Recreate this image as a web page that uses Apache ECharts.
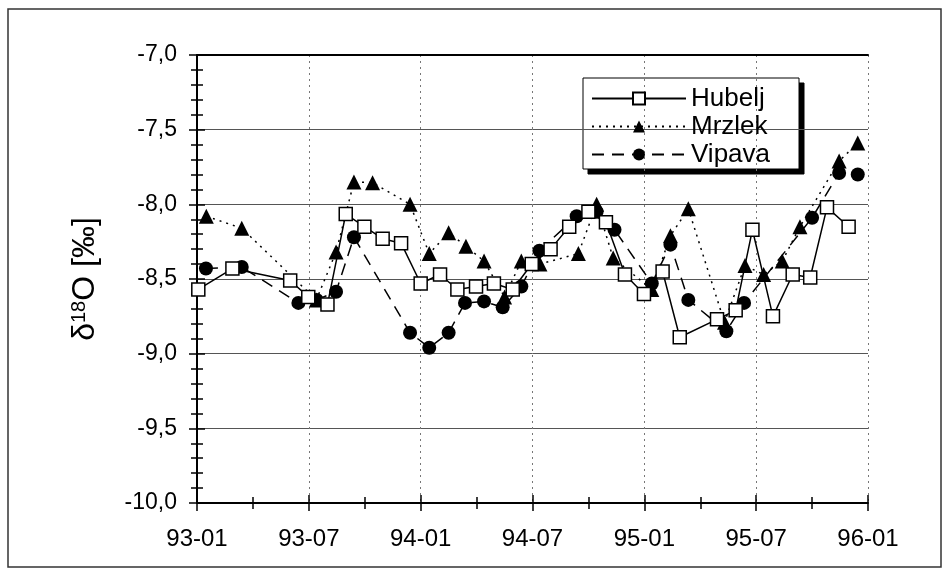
<!DOCTYPE html>
<html>
<head>
<meta charset="utf-8">
<script src="https://cdn.jsdelivr.net/npm/echarts@6/dist/echarts.min.js"></script>
<style>html,body{margin:0;padding:0;background:#fff}#c{width:950px;height:572px}</style>
</head>
<body>
<div id="c"></div>
<script>
// x values are months since 1993-01
const xTickLabels = ['93-01','93-07','94-01','94-07','95-01','95-07','96-01'];

const hubeljMonths = [0.07,1.9,5.0,5.97,7.0,7.98,8.98,9.96,10.95,12.0,13.04,13.97,14.97,15.93,16.94,17.96,18.97,19.97,21.0,21.94,22.96,23.98,24.98,25.9,27.9,28.9,29.8,30.9,31.96,32.9,33.8,34.96];
const hubeljValues = [-8.57,-8.43,-8.51,-8.62,-8.67,-8.065,-8.15,-8.23,-8.26,-8.53,-8.47,-8.57,-8.55,-8.53,-8.57,-8.40,-8.30,-8.15,-8.05,-8.12,-8.47,-8.60,-8.45,-8.89,-8.77,-8.71,-8.17,-8.75,-8.47,-8.49,-8.02,-8.15];

const mrzlekMonths = [0.5,2.4,6.4,7.46,8.42,9.42,11.43,12.46,13.5,14.43,15.4,16.5,17.4,18.4,20.46,21.44,22.33,24.4,25.4,26.36,28.3,29.4,30.4,31.4,32.35,34.45,35.45];
const mrzlekValues = [-8.08,-8.16,-8.64,-8.32,-7.85,-7.855,-8.0,-8.33,-8.19,-8.28,-8.38,-8.62,-8.38,-8.40,-8.33,-8.0,-8.36,-8.57,-8.21,-8.03,-8.79,-8.41,-8.47,-8.38,-8.15,-7.71,-7.59];

const vipavaMonths = [0.48,2.4,5.44,6.42,7.46,8.42,11.43,12.46,13.5,14.38,15.4,16.4,17.4,18.37,20.37,21.44,22.4,24.4,25.4,26.36,28.4,29.35,33.0,34.45,35.45];
const vipavaValues = [-8.43,-8.42,-8.66,-8.64,-8.585,-8.22,-8.86,-8.96,-8.86,-8.66,-8.65,-8.69,-8.55,-8.31,-8.08,-8.05,-8.17,-8.53,-8.27,-8.64,-8.85,-8.66,-8.09,-7.79,-7.80];

const zip = (a, b) => a.map((v, i) => [v, b[i]]);
const FONT = '"Liberation Sans", Arial, sans-serif';

const chart = echarts.init(document.getElementById('c'), null, {renderer: 'canvas'});
const yCommon = {type: 'value', min: -10, max: -7, interval: 0.5, position: 'left'};
const xCommon = {type: 'value', min: 0, max: 36, interval: 6};

chart.setOption({
  animation: false,
  backgroundColor: '#fff',
  grid: {left: 197, right: 82, top: 55, bottom: 69, containLabel: false},
  graphic: {
    elements: [
      {type: 'rect', silent: true,
        shape: {x: 8, y: 9, width: 933, height: 558},
        style: {fill: 'transparent', stroke: '#333', lineWidth: 1.5}},
      {type: 'group', silent: true, z: 100, children: [
        {type: 'rect', shape: {x: 588, y: 83, width: 216, height: 91}, style: {fill: '#000', stroke: '#000'}},
        {type: 'rect', shape: {x: 583, y: 78, width: 216, height: 91}, style: {fill: '#fff', stroke: '#000', lineWidth: 1}}
      ]}
    ]
  },
  legend: {
    left: 583, top: 78, orient: 'vertical', z: 200,
    padding: [7.5, 10, 10, 8],
    itemWidth: 94, itemHeight: 15, itemGap: 2,
    textStyle: {fontFamily: FONT, fontSize: 26, color: '#000'},
    data: ['Hubelj', 'Mrzlek', 'Vipava']
  },
  xAxis: [
    Object.assign({}, xCommon, {
      position: 'bottom',
      axisLine: {show: true, onZero: false, lineStyle: {color: '#000', width: 2}},
      axisTick: {show: true, inside: false, length: 8, lineStyle: {color: '#000', width: 1.5}},
      minorTick: {show: true, splitNumber: 2, length: 6, lineStyle: {color: '#000', width: 1.5}},
      axisLabel: {margin: 24, fontFamily: FONT, fontSize: 24, color: '#000',
        formatter: v => xTickLabels[Math.round(v / 6)]},
      splitLine: {show: true, lineStyle: {color: '#777', width: 1, type: [2, 4]}}
    }),
    Object.assign({}, xCommon, {
      position: 'bottom',
      axisLine: {show: false, onZero: false},
      axisTick: {show: true, inside: true, length: 8, lineStyle: {color: '#000', width: 1.5}},
      minorTick: {show: true, splitNumber: 2, length: 6, lineStyle: {color: '#000', width: 1.5}},
      axisLabel: {show: false}, splitLine: {show: false}
    }),
    Object.assign({}, xCommon, {
      position: 'top',
      axisLine: {show: true, onZero: false, lineStyle: {color: '#000', width: 2}},
      axisTick: {show: false}, axisLabel: {show: false}, splitLine: {show: false}
    })
  ],
  yAxis: [
    Object.assign({}, yCommon, {
      name: '{a|δ}{s|18}{a|O [‰]}',
      nameLocation: 'middle', nameGap: 96, nameRotate: 90,
      nameTextStyle: {rich: {
        a: {fontFamily: FONT, fontSize: 32, color: '#000'},
        s: {fontFamily: FONT, fontSize: 20, color: '#000', verticalAlign: 'top', padding: [0, 0, 12, 0]}
      }},
      axisLine: {show: true, onZero: false, lineStyle: {color: '#000', width: 2}},
      axisTick: {show: true, inside: false, length: 8, lineStyle: {color: '#000', width: 1.5}},
      minorTick: {show: true, splitNumber: 5, length: 6, lineStyle: {color: '#000', width: 1.5}},
      axisLabel: {margin: 20, fontFamily: FONT, fontSize: 23, color: '#000',
        formatter: v => v.toFixed(1).replace('.', ',')},
      splitLine: {show: true, lineStyle: {color: '#555', width: 1}}
    }),
    Object.assign({}, yCommon, {
      axisLine: {show: false, onZero: false},
      axisTick: {show: true, inside: true, length: 8, lineStyle: {color: '#000', width: 1.5}},
      minorTick: {show: true, splitNumber: 5, length: 6, lineStyle: {color: '#000', width: 1.5}},
      axisLabel: {show: false}, splitLine: {show: false}
    })
  ],
  series: [
    {
      name: 'Hubelj', type: 'line', xAxisIndex: 0, yAxisIndex: 0, z: 3,
      data: zip(hubeljMonths, hubeljValues),
      symbol: 'rect', symbolSize: 13,
      itemStyle: {color: '#fff', borderColor: '#000', borderWidth: 1.5},
      lineStyle: {color: '#000', width: 1.5, type: 'solid'}
    },
    {
      name: 'Mrzlek', type: 'line', xAxisIndex: 0, yAxisIndex: 0, z: 2,
      data: zip(mrzlekMonths, mrzlekValues),
      symbol: 'triangle', symbolSize: 15,
      itemStyle: {color: '#000', borderColor: '#000', borderWidth: 0},
      lineStyle: {color: '#000', width: 1.5, type: [2, 5]}
    },
    {
      name: 'Vipava', type: 'line', xAxisIndex: 0, yAxisIndex: 0, z: 2,
      data: zip(vipavaMonths, vipavaValues),
      symbol: 'circle', symbolSize: 14,
      itemStyle: {color: '#000', borderColor: '#000', borderWidth: 0},
      lineStyle: {color: '#000', width: 1.5, type: [12, 8]}
    }
  ]
});
</script>
</body>
</html>
